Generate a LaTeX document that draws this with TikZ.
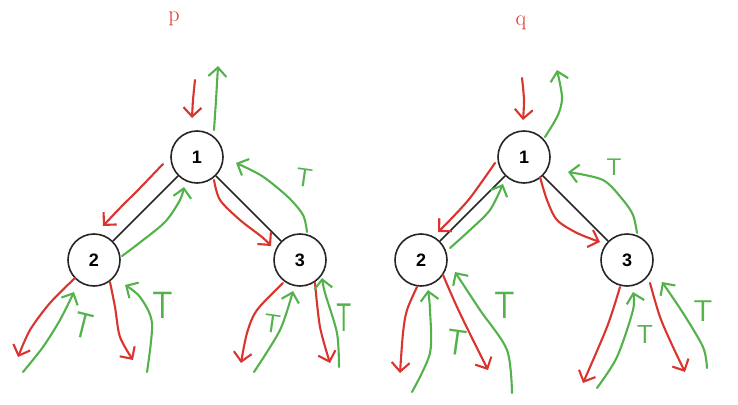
\documentclass[tikz,border=0pt]{standalone}
\usepackage{fontspec}
\newfontfamily\arialf{Liberation Sans}
\usetikzlibrary{arrows.meta}
\definecolor{hred}{RGB}{218,52,46}
\definecolor{hgreen}{RGB}{84,178,76}
\tikzset{
  tnode/.style={circle, draw=black!85, line width=1.6pt, minimum size=52pt, inner sep=0pt, font=\arialf\bfseries\fontsize{18}{18}\selectfont},
  tedge/.style={draw=black!85, line width=1.6pt},
  hand/.style={line width=2.1pt, line cap=round, line join=round, -{Straight Barb[length=9pt,width=18pt]}},
  redarr/.style={hand, draw=hred},
  greenarr/.style={hand, draw=hgreen},
  tlabel/.style={text=hgreen, font=\sffamily\fontsize{#1}{#1}\selectfont, inner sep=0pt},
  plabel/.style={text=hred, font=\fontsize{22}{22}\selectfont, inner sep=0pt}
}
\begin{document}
\begin{tikzpicture}[x=1pt,y=-1pt]
\useasboundingbox (0,0) rectangle (738,404);
% labels
\node[plabel] (p) at (174,19) {p};
\node[plabel] (q) at (521,23) {q};
% left tree
\node[tnode] (l1) at (197,157) {1};
\node[tnode] (l2) at (94,260) {2};
\node[tnode] (l3) at (300,260) {3};
\draw[tedge] (l1) -- (l2);
\draw[tedge] (l1) -- (l3);
% right tree
\node[tnode] (r1) at (524,157) {1};
\node[tnode] (r2) at (421,260) {2};
\node[tnode] (r3) at (627,260) {3};
\draw[tedge] (r1) -- (r2);
\draw[tedge] (r1) -- (r3);
% ---------- left annotations
\draw[redarr] plot[smooth] coordinates {(195,80) (193,100) (192,118)};
\draw[greenarr] plot[smooth] coordinates {(214,130) (216,100) (218,66)};
\draw[redarr] plot[smooth] coordinates {(163,164) (140,188) (120,208) (103,226)};
\draw[greenarr] plot[smooth] coordinates {(122,256) (138,244) (165,222) (180,200) (184,187)};
\draw[redarr] plot[smooth] coordinates {(214,180) (220,200) (240,220) (262,237) (271,246)};
\draw[greenarr] plot[smooth] coordinates {(307,232) (303,215) (288,197) (262,176) (236,163)};
\node[tlabel=26, rotate=-8] (lt1) at (304,178) {T};
\draw[redarr] plot[smooth] coordinates {(75,278) (50,303) (30,330) (18,357)};
\draw[greenarr] plot[smooth] coordinates {(23,372) (43,347) (60,320) (74,292)};
\node[tlabel=36, rotate=-14, xscale=0.8] (lt2) at (83,326) {T};
\draw[redarr] plot[smooth] coordinates {(110,282) (115,307) (120,337) (133,360)};
\draw[greenarr] plot[smooth] coordinates {(147,372) (152,323) (140,297) (125,285)};
\node[tlabel=38, xscale=0.85] (lt3) at (163,305) {T};
\draw[redarr] plot[smooth] coordinates {(283,283) (257,310) (247,333) (241,363)};
\draw[greenarr] plot[smooth] coordinates {(254,372) (280,330) (293,291)};
\node[tlabel=26, rotate=-8] (lt4) at (272,324) {T};
\draw[redarr] plot[smooth] coordinates {(315,283) (320,327) (330,363)};
\draw[greenarr] plot[smooth] coordinates {(339,367) (337,333) (325,293) (322,278)};
\node[tlabel=40, xscale=0.6] (lt5) at (344,318) {T};
% ---------- right annotations
\draw[redarr] plot[smooth] coordinates {(522,78) (524,100) (523,120)};
\draw[greenarr] plot[smooth] coordinates {(545,137) (558,115) (562,97) (557,70)};
\draw[redarr] plot[smooth] coordinates {(495,163) (470,198) (450,220) (438,232)};
\draw[greenarr] plot[smooth] coordinates {(450,248) (470,230) (490,210) (503,184)};
\draw[redarr] plot[smooth] coordinates {(540,177) (547,200) (557,220) (577,233) (600,242)};
\draw[greenarr] plot[smooth] coordinates {(637,233) (633,215) (623,200) (603,180) (568,172)};
\node[tlabel=24] (rt1) at (614,167) {T};
\draw[redarr] plot[smooth] coordinates {(417,287) (407,310) (403,333) (400,373)};
\draw[greenarr] plot[smooth] coordinates {(412,392) (430,353) (430,310) (428,290)};
\node[tlabel=36, rotate=-8, xscale=0.85] (rt2) at (457,343) {T};
\draw[redarr] plot[smooth] coordinates {(443,275) (457,307) (473,340) (488,370)};
\draw[greenarr] plot[smooth] coordinates {(512,393) (507,350) (480,310) (455,272)};
\node[tlabel=38, xscale=0.85] (rt3) at (505,305) {T};
\draw[redarr] plot[smooth] coordinates {(620,287) (607,327) (583,383)};
\draw[greenarr] plot[smooth] coordinates {(597,388) (617,357) (633,310) (633,292)};
\node[tlabel=26] (rt4) at (645,335) {T};
\draw[redarr] plot[smooth] coordinates {(650,283) (660,317) (673,347) (685,372)};
\draw[greenarr] plot[smooth] coordinates {(707,368) (703,347) (683,313) (662,282)};
\node[tlabel=30] (rt5) at (703,311) {T};
\end{tikzpicture}
\end{document}
